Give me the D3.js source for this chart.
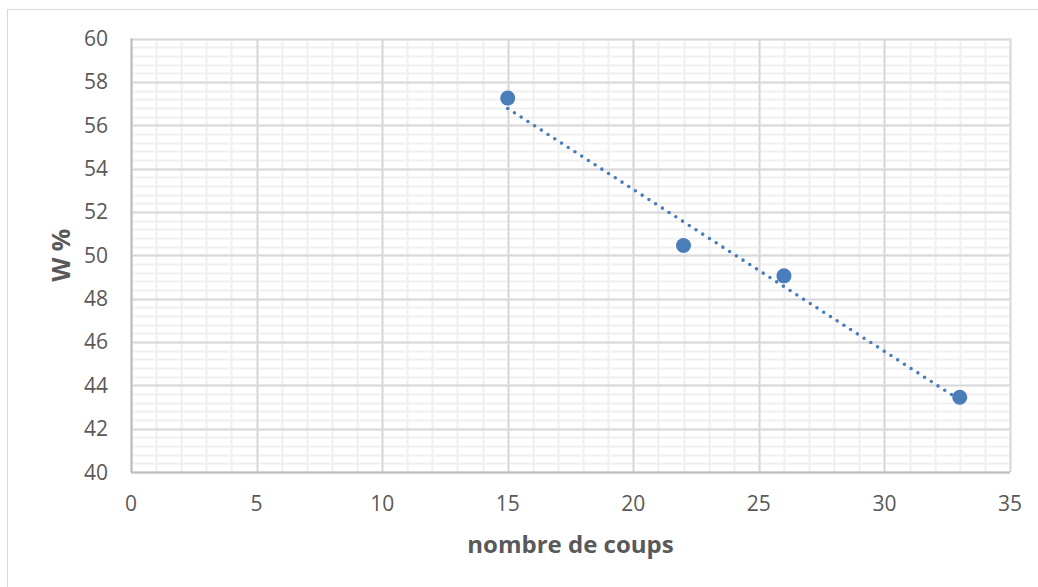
<!DOCTYPE html>
<html lang="fr">
<head>
<meta charset="utf-8">
<title>W % / nombre de coups</title>
<script src="https://d3js.org/d3.v7.min.js"></script>
<style>
  body { margin: 0; background: #fff; }
  text { font-family: "Open Sans", "Noto Sans", sans-serif; fill: #595959; }
</style>
</head>
<body>
<script>
// data
var coups = [15, 22, 26, 33];
var teneurW = [57.25, 50.45, 49.05, 43.45];

// tick labels
var xTicks = [0, 5, 10, 15, 20, 25, 30, 35];
var yTicks = [40, 42, 44, 46, 48, 50, 52, 54, 56, 58, 60];

var w = 1038, h = 587;
var pLeft = 131, pRight = 1010, pTop = 38.5, pBottom = 472;
var blue = "#4a7ebb";

var x = d3.scaleLinear().domain([0, 35]).range([pLeft, pRight]);
var y = d3.scaleLinear().domain([40, 60]).range([pBottom, pTop]);

var svg = d3.select("body").append("svg").attr("width", w).attr("height", h);

// chart frame
svg.append("rect").attr("x", 7.5).attr("y", 9.5).attr("width", 1040).attr("height", 600)
  .attr("fill", "white").attr("stroke", "#d9d9d9").attr("stroke-width", 1);

// minor grid
var g = svg.append("g");
g.selectAll("line.vminor").data(d3.range(0, 36, 1)).enter().append("line")
  .attr("x1", d => Math.round(x(d)) + 0.5).attr("x2", d => Math.round(x(d)) + 0.5)
  .attr("y1", pTop).attr("y2", pBottom)
  .attr("stroke", "#f0f0f0").attr("stroke-width", 2);
g.selectAll("line.hminor").data(d3.range(0, 51).map(i => 40 + i * 0.4)).enter().append("line")
  .attr("x1", pLeft).attr("x2", pRight)
  .attr("y1", d => Math.round(y(d)) + 0.5).attr("y2", d => Math.round(y(d)) + 0.5)
  .attr("stroke", "#f0f0f0").attr("stroke-width", 2);

// major grid
g.selectAll("line.vmajor").data(xTicks).enter().append("line")
  .attr("x1", d => Math.round(x(d)) + 0.5).attr("x2", d => Math.round(x(d)) + 0.5)
  .attr("y1", pTop).attr("y2", pBottom)
  .attr("stroke", "#d9d9d9").attr("stroke-width", 2);
g.selectAll("line.hmajor").data(yTicks).enter().append("line")
  .attr("x1", pLeft).attr("x2", pRight)
  .attr("y1", d => Math.round(y(d)) + 0.5).attr("y2", d => Math.round(y(d)) + 0.5)
  .attr("stroke", "#d9d9d9").attr("stroke-width", 2);

// axes lines
svg.append("line").attr("x1", pLeft).attr("x2", pRight).attr("y1", pBottom + 0.5).attr("y2", pBottom + 0.5)
  .attr("stroke", "#bfbfbf").attr("stroke-width", 2);
svg.append("line").attr("x1", pLeft + 0.5).attr("x2", pLeft + 0.5).attr("y1", pTop).attr("y2", pBottom)
  .attr("stroke", "#bfbfbf").attr("stroke-width", 2);

// tick labels
svg.selectAll("text.xt").data(xTicks).enter().append("text")
  .attr("x", d => x(d)).attr("y", 511)
  .attr("text-anchor", "middle").style("font-size", "21px")
  .text(d => d);
svg.selectAll("text.yt").data(yTicks).enter().append("text")
  .attr("x", 108).attr("y", d => y(d) + 7.5)
  .attr("text-anchor", "end").style("font-size", "21px")
  .text(d => d);

// axis titles
svg.append("text").attr("x", (pLeft + pRight) / 2).attr("y", 553)
  .attr("text-anchor", "middle").style("font-size", "24px").style("font-weight", "bold")
  .text("nombre de coups");
svg.append("text").attr("transform", "translate(70," + ((pTop + pBottom) / 2) + ") rotate(-90)")
  .attr("text-anchor", "middle").style("font-size", "25px").style("font-weight", "bold")
  .text("W %");

// linear trendline (least squares, like the spreadsheet)
var mx = d3.mean(coups), my = d3.mean(teneurW);
var sxy = d3.sum(coups, (c, i) => (c - mx) * (teneurW[i] - my));
var sxx = d3.sum(coups, c => (c - mx) * (c - mx));
var slope = sxy / sxx, icpt = my - slope * mx;
var ends = d3.extent(coups);
svg.append("path")
  .datum(ends)
  .attr("d", d3.line().x(d => x(d)).y(d => y(icpt + slope * d)))
  .attr("fill", "none").attr("stroke", blue).attr("stroke-width", 3.6)
  .attr("stroke-linecap", "round").attr("stroke-dasharray", "0,8");

// markers
svg.selectAll("circle").data(coups).enter().append("circle")
  .attr("cx", d => x(d)).attr("cy", (d, i) => y(teneurW[i]))
  .attr("r", 7.5).attr("fill", blue);
</script>
</body>
</html>
